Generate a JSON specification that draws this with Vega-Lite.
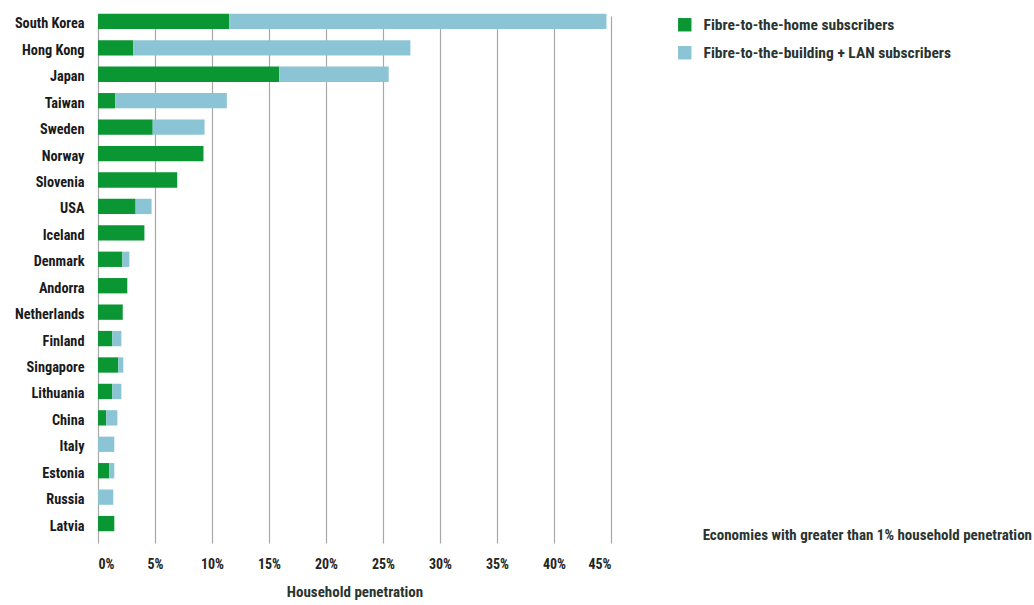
{
  "$schema": "https://vega.github.io/schema/vega-lite/v6.json",
  "autosize": "none",
  "width": 513,
  "height": 534,
  "padding": {"left": 98, "top": 9, "right": 423, "bottom": 62},
  "background": "white",
  "config": {
    "view": {"stroke": null},
    "font": "'Roboto Condensed', 'Liberation Sans Narrow', Roboto, sans-serif"
  },
  "title": {
    "text": "Economies with greater than 1% household penetration",
    "orient": "top",
    "anchor": "end",
    "frame": "group",
    "dx": 421,
    "dy": 538,
    "font": "'Roboto Condensed', 'Liberation Sans Narrow', Roboto, sans-serif",
    "fontSize": 15,
    "fontWeight": "bold",
    "color": "#2a3430"
  },
  "data": {
    "values": [
      {"country": "South Korea", "type": "Fibre-to-the-home subscribers", "value": 11.5},
      {"country": "South Korea", "type": "Fibre-to-the-building + LAN subscribers", "value": 33.1},
      {"country": "Hong Kong", "type": "Fibre-to-the-home subscribers", "value": 3.1},
      {"country": "Hong Kong", "type": "Fibre-to-the-building + LAN subscribers", "value": 24.3},
      {"country": "Japan", "type": "Fibre-to-the-home subscribers", "value": 15.9},
      {"country": "Japan", "type": "Fibre-to-the-building + LAN subscribers", "value": 9.6},
      {"country": "Taiwan", "type": "Fibre-to-the-home subscribers", "value": 1.5},
      {"country": "Taiwan", "type": "Fibre-to-the-building + LAN subscribers", "value": 9.8},
      {"country": "Sweden", "type": "Fibre-to-the-home subscribers", "value": 4.8},
      {"country": "Sweden", "type": "Fibre-to-the-building + LAN subscribers", "value": 4.55},
      {"country": "Norway", "type": "Fibre-to-the-home subscribers", "value": 9.25},
      {"country": "Slovenia", "type": "Fibre-to-the-home subscribers", "value": 6.95},
      {"country": "USA", "type": "Fibre-to-the-home subscribers", "value": 3.3},
      {"country": "USA", "type": "Fibre-to-the-building + LAN subscribers", "value": 1.4},
      {"country": "Iceland", "type": "Fibre-to-the-home subscribers", "value": 4.07},
      {"country": "Denmark", "type": "Fibre-to-the-home subscribers", "value": 2.14},
      {"country": "Denmark", "type": "Fibre-to-the-building + LAN subscribers", "value": 0.61},
      {"country": "Andorra", "type": "Fibre-to-the-home subscribers", "value": 2.57},
      {"country": "Netherlands", "type": "Fibre-to-the-home subscribers", "value": 2.17},
      {"country": "Finland", "type": "Fibre-to-the-home subscribers", "value": 1.26},
      {"country": "Finland", "type": "Fibre-to-the-building + LAN subscribers", "value": 0.79},
      {"country": "Singapore", "type": "Fibre-to-the-home subscribers", "value": 1.78},
      {"country": "Singapore", "type": "Fibre-to-the-building + LAN subscribers", "value": 0.44},
      {"country": "Lithuania", "type": "Fibre-to-the-home subscribers", "value": 1.26},
      {"country": "Lithuania", "type": "Fibre-to-the-building + LAN subscribers", "value": 0.79},
      {"country": "China", "type": "Fibre-to-the-home subscribers", "value": 0.73},
      {"country": "China", "type": "Fibre-to-the-building + LAN subscribers", "value": 0.97},
      {"country": "Italy", "type": "Fibre-to-the-building + LAN subscribers", "value": 1.43},
      {"country": "Estonia", "type": "Fibre-to-the-home subscribers", "value": 0.99},
      {"country": "Estonia", "type": "Fibre-to-the-building + LAN subscribers", "value": 0.44},
      {"country": "Russia", "type": "Fibre-to-the-building + LAN subscribers", "value": 1.34},
      {"country": "Latvia", "type": "Fibre-to-the-home subscribers", "value": 1.43}
    ]
  },
  "transform": [
    {"calculate": "datum.type === 'Fibre-to-the-home subscribers' ? 0 : 1", "as": "ord"}
  ],
  "mark": {"type": "bar"},
  "encoding": {
    "y": {
      "field": "country",
      "type": "nominal",
      "sort": ["South Korea", "Hong Kong", "Japan", "Taiwan", "Sweden", "Norway", "Slovenia", "USA", "Iceland", "Denmark", "Andorra", "Netherlands", "Finland", "Singapore", "Lithuania", "China", "Italy", "Estonia", "Russia", "Latvia"],
      "scale": {"range": [0, 527], "paddingInner": 0.42, "paddingOuter": 0.18},
      "axis": {
        "title": null,
        "domain": false,
        "ticks": false,
        "grid": false,
        "labelPadding": 14,
        "labelOffset": 3,
        "labelFontWeight": "bold",
        "labelFontSize": 14.3,
        "labelColor": "#1a1a1a"
      }
    },
    "x": {
      "field": "value",
      "type": "quantitative",
      "stack": "zero",
      "scale": {"domain": [0, 45], "nice": false},
      "axis": {
        "title": "Household penetration",
        "values": [0, 5, 10, 15, 20, 25, 30, 35, 40, 45],
        "labelExpr": "datum.value + '%'",
        "domain": false,
        "ticks": false,
        "grid": true,
        "gridColor": "#a8a8a8",
        "gridWidth": 1.2,
        "labelPadding": 14,
        "labelFontWeight": "bold",
        "labelFontSize": 14,
        "labelColor": "#1f2623",
        "titleFontWeight": "bold",
        "titleFontSize": 15,
        "titleColor": "#2a3430",
        "titlePadding": 13
      }
    },
    "color": {
      "field": "type",
      "type": "nominal",
      "scale": {
        "domain": ["Fibre-to-the-home subscribers", "Fibre-to-the-building + LAN subscribers"],
        "range": ["#0a9632", "#8bc5d5"]
      },
      "legend": {
        "title": null,
        "orient": "none",
        "legendX": 579,
        "legendY": 8,
        "symbolType": "square",
        "symbolSize": 180,
        "symbolStrokeWidth": 0,
        "symbolOpacity": 1,
        "labelFontWeight": "bold",
        "labelFontSize": 15.5,
        "labelLimit": 400,
        "labelColor": "#2a3430",
        "labelOffset": 11,
        "rowPadding": 11
      }
    },
    "order": {"field": "ord", "type": "quantitative"}
  }
}
